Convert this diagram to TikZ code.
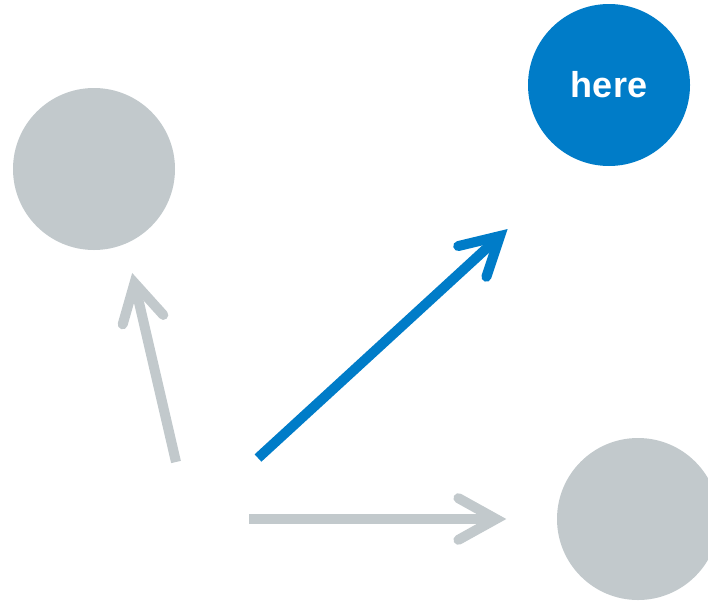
\documentclass[tikz,border=0pt]{standalone}
\usepackage{fontspec}
\setmainfont{Liberation Sans}
\usetikzlibrary{calc}
\definecolor{greyc}{RGB}{194,201,204}
\definecolor{bluec}{RGB}{0,124,200}
\tikzset{
  dot/.style={circle, minimum size=162pt, inner sep=0pt, fill=#1},
  shaft/.style={line width=10pt, draw=#1},
  head/.style={line width=10pt, draw=#1, line cap=round, line join=miter},
}
\newcommand{\myarrow}[3]{%
  \draw[shaft=#3] (#1) -- (#2);
  \draw[head=#3] ($(#2)!43pt!29:(#1)$) -- (#2) -- ($(#2)!43pt!-29:(#1)$);
}
\begin{document}
\begin{tikzpicture}[x=1pt,y=-1pt]
\useasboundingbox (0,0) rectangle (708,600);
\clip (0,0) rectangle (708,600);
\node[dot=greyc] (left) at (94,169) {};
\node[dot=bluec, text=white, font=\bfseries\fontsize{36}{40}\selectfont] (here) at (609,85) {here};
\node[dot=greyc] (right) at (638,519) {};
\coordinate (s1) at (176,462);
\coordinate (t1) at (134.5,283);
\coordinate (s2) at (258,458);
\coordinate (t2) at (500,236);
\coordinate (s3) at (249,519);
\coordinate (t3) at (496,519);
\myarrow{s1}{t1}{greyc}
\myarrow{s2}{t2}{bluec}
\myarrow{s3}{t3}{greyc}
\end{tikzpicture}
\end{document}
